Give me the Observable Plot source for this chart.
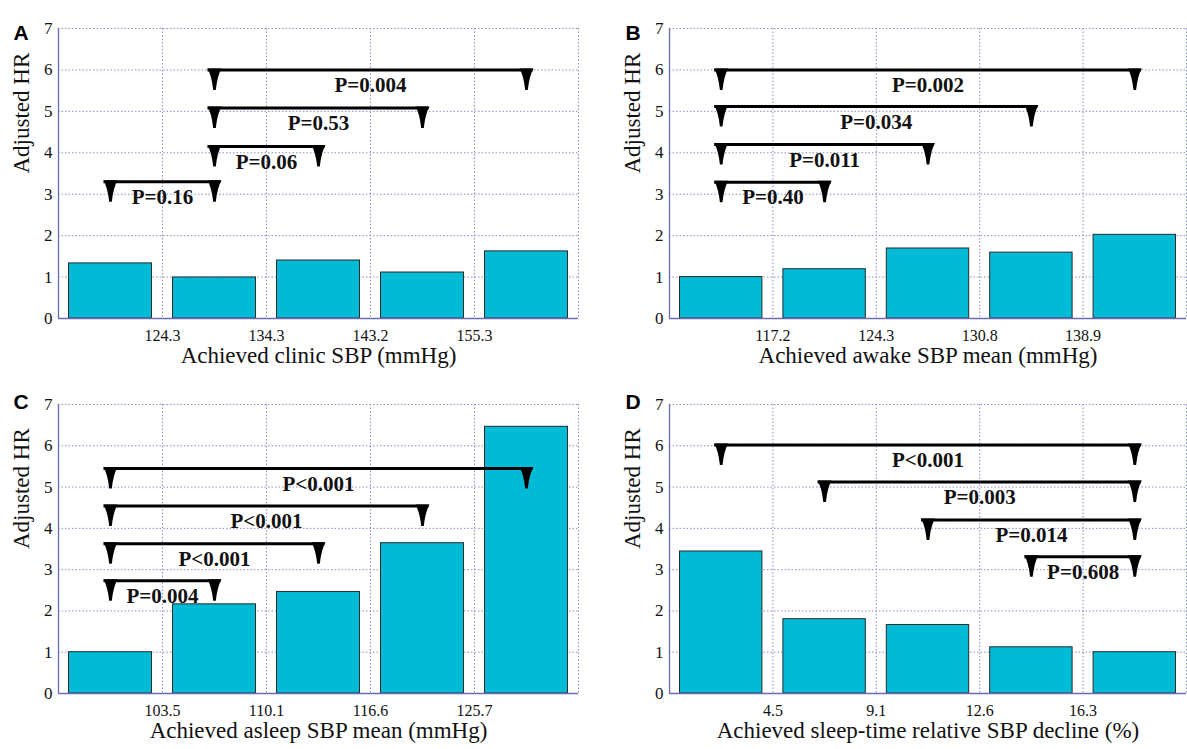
<!DOCTYPE html>
<html><head><meta charset="utf-8">
<script src="https://cdn.jsdelivr.net/npm/d3@7"></script>
<script src="https://cdn.jsdelivr.net/npm/@observablehq/plot@0.6"></script>
<style>
body{margin:0;background:#fff;}
#wrap{position:relative;width:1187px;height:749px;overflow:hidden;background:#fff;}
#wrap svg{position:absolute;}
</style></head><body><div id="wrap"></div>
<script>
// ---------- data ----------
const yTicks = [0, 1, 2, 3, 4, 5, 6, 7];
const yTitle = "Adjusted HR";

// Panel A
const hrA = [1.33, 0.99, 1.40, 1.11, 1.62];
const ticksA = ["124.3", "134.3", "143.2", "155.3"];
const titleA = "Achieved clinic SBP (mmHg)";
const pLabelA = ["P=0.16", "P=0.06", "P=0.53", "P=0.004"];
const pFromA = [1, 2, 2, 2];
const pToA = [2, 3, 4, 5];
const pLevelA = [3.3, 4.15, 5.08, 6.0];

// Panel B
const hrB = [1.0, 1.19, 1.69, 1.59, 2.02];
const ticksB = ["117.2", "124.3", "130.8", "138.9"];
const titleB = "Achieved awake SBP mean (mmHg)";
const pLabelB = ["P=0.40", "P=0.011", "P=0.034", "P=0.002"];
const pFromB = [1, 1, 1, 1];
const pToB = [2, 3, 4, 5];
const pLevelB = [3.29, 4.2, 5.12, 6.0];

// Panel C
const hrC = [1.0, 2.16, 2.46, 3.64, 6.46];
const ticksC = ["103.5", "110.1", "116.6", "125.7"];
const titleC = "Achieved asleep SBP mean (mmHg)";
const pLabelC = ["P=0.004", "P<0.001", "P<0.001", "P<0.001"];
const pFromC = [1, 1, 1, 1];
const pToC = [2, 3, 4, 5];
const pLevelC = [2.73, 3.63, 4.54, 5.45];

// Panel D
const hrD = [3.44, 1.80, 1.66, 1.12, 1.0];
const ticksD = ["4.5", "9.1", "12.6", "16.3"];
const titleD = "Achieved sleep-time relative SBP decline (%)";
const pLabelD = ["P=0.608", "P=0.014", "P=0.003", "P<0.001"];
const pFromD = [4, 3, 2, 1];
const pToD = [5, 5, 5, 5];
const pLevelD = [3.31, 4.2, 5.12, 6.02];

// ---------- styles ----------
const BAR = "#00bbd6";
const GRID = "#8c8cc8";
const AXIS = "#6b6bb5";
const SERIF = '"Liberation Serif","Times New Roman",serif';
const SANS = '"Liberation Sans",Arial,sans-serif';

const TRI = {
  draw(ctx) {
    ctx.moveTo(-7, -1.5);
    ctx.lineTo(7, -1.5);
    ctx.quadraticCurveTo(2.8, 6, 1.3, 20);
    ctx.lineTo(-1.3, 20);
    ctx.quadraticCurveTo(-2.8, 6, -7, -1.5);
    ctx.closePath();
  }
};

function panel(o) {
  const bars = o.hr.map((v, i) => ({q: i + 1, hr: v}));
  const br = o.pLabel.map((p, i) => ({p, from: o.pFrom[i], to: o.pTo[i], y: o.pLevel[i]}));
  const ends = br.flatMap(d => [{x: d.from - 0.5, y: d.y}, {x: d.to - 0.5, y: d.y}]);
  const svg = Plot.plot({
    width: o.width, height: o.height,
    marginLeft: o.ml, marginRight: o.mr, marginTop: o.mt, marginBottom: o.mb,
    x: {domain: [0, 5], axis: null},
    y: {domain: [0, 7], axis: null},
    style: {fontFamily: SERIF, background: "transparent", overflow: "visible", color: "#111"},
    marks: [
      Plot.ruleY(yTicks.filter(d => d > 0), {stroke: GRID, strokeDasharray: "1.5,2", strokeWidth: 1}),
      Plot.ruleX([1, 2, 3, 4, 5], {stroke: GRID, strokeDasharray: "1.5,2", strokeWidth: 1}),
      Plot.rectY(bars, {x1: d => d.q - 1, x2: d => d.q, y: "hr", fill: BAR, stroke: "#2a2a2a", strokeWidth: 1, insetLeft: 10.5, insetRight: 10.5}),
      Plot.ruleX([0], {stroke: AXIS, strokeWidth: 1.3}),
      Plot.ruleY([0], {stroke: AXIS, strokeWidth: 1.3}),
      Plot.text(yTicks, {x: 0, y: d => d, text: d => String(d), textAnchor: "end", dx: -6, fontSize: 17, fill: "#111"}),
      Plot.text(o.ticks, {x: (d, i) => i + 1, y: 0, text: d => d, dy: 17, fontSize: 16, fill: "#111"}),
      Plot.text([o.title], {frameAnchor: "bottom", text: d => d, dy: 44, fontSize: 23, fill: "#111"}),
      Plot.text([yTitle], {frameAnchor: "left", text: d => d, rotate: -90, dx: -37, fontSize: 23, fill: "#111"}),
      Plot.text([o.letter], {frameAnchor: "top-left", text: d => d, textAnchor: "start", dx: o.ldx, dy: o.ldy, fontSize: 21, fontWeight: "bold", fontFamily: SANS, fill: "#000"}),
      Plot.ruleY(br, {y: "y", x1: d => d.from - 0.5, x2: d => d.to - 0.5, stroke: "#000", strokeWidth: 3, insetLeft: -6.5, insetRight: -6.5}),
      Plot.dot(ends, {x: "x", y: "y", symbol: TRI, r: 5, fill: "#000", stroke: "none"}),
      Plot.text(br, {x: d => (d.from + d.to) / 2 - 0.5, y: "y", text: "p", dy: 15.5, fontSize: 21, fontWeight: "bold", fill: "#111"})
    ]
  });
  svg.style.left = o.left + "px";
  svg.style.top = o.top + "px";
  document.getElementById("wrap").appendChild(svg);
}

panel({letter: "A", hr: hrA, ticks: ticksA, title: titleA, pLabel: pLabelA, pFrom: pFromA, pTo: pToA, pLevel: pLevelA,
  left: 0, top: 0, width: 595, height: 374, ml: 58, mr: 17, mt: 28, mb: 56, ldx: -45, ldy: -3});
panel({letter: "B", hr: hrB, ticks: ticksB, title: titleB, pLabel: pLabelB, pFrom: pFromB, pTo: pToB, pLevel: pLevelB,
  left: 595, top: 0, width: 592, height: 374, ml: 74, mr: 1, mt: 28, mb: 56, ldx: -44, ldy: -3});
panel({letter: "C", hr: hrC, ticks: ticksC, title: titleC, pLabel: pLabelC, pFrom: pFromC, pTo: pToC, pLevel: pLevelC,
  left: 0, top: 374, width: 595, height: 375, ml: 58, mr: 17, mt: 30, mb: 56, ldx: -45, ldy: -10});
panel({letter: "D", hr: hrD, ticks: ticksD, title: titleD, pLabel: pLabelD, pFrom: pFromD, pTo: pToD, pLevel: pLevelD,
  left: 595, top: 374, width: 592, height: 375, ml: 74, mr: 1, mt: 30, mb: 56, ldx: -44, ldy: -10});
</script>
</body></html>
